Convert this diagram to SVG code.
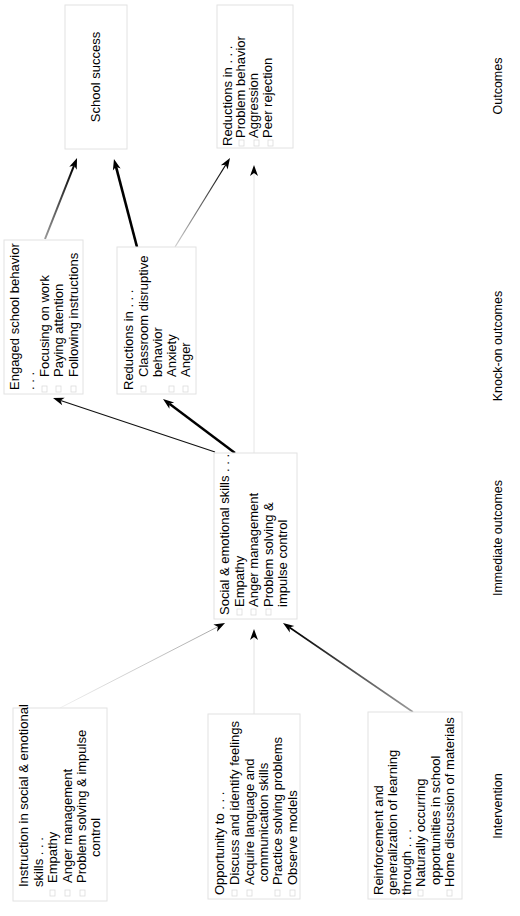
<svg xmlns="http://www.w3.org/2000/svg" width="520" height="916" viewBox="0 0 520 916">
<style>
.box{fill:#fff;stroke:#e2e2e2;stroke-width:1}
.t{font-family:"Liberation Sans",Arial,sans-serif;font-size:13px;fill:#000}
.lbl{font-family:"Liberation Sans",Arial,sans-serif;font-size:12.5px;fill:#000;text-anchor:middle}
.b{fill:none;stroke:#dcdcdc;stroke-width:0.8}
.c{fill:none}
</style>
<defs>
<marker id="ah" markerUnits="userSpaceOnUse" markerWidth="12" markerHeight="9" refX="3" refY="4" orient="auto" overflow="visible">
<path d="M0,0 L11,4 L0,8 L3,4 z" fill="#000"/>
</marker>
<linearGradient id="g1" gradientUnits="userSpaceOnUse" x1="208" y1="60" x2="289" y2="218"><stop offset="0" stop-color="#f0f0f0"/><stop offset="1" stop-color="#a8a8a8"/></linearGradient>
<linearGradient id="g3" gradientUnits="userSpaceOnUse" x1="204" y1="413" x2="288" y2="290"><stop offset="0" stop-color="#9a9a9a"/><stop offset="1" stop-color="#000"/></linearGradient>
<linearGradient id="g7" gradientUnits="userSpaceOnUse" x1="669" y1="175" x2="751" y2="226"><stop offset="0" stop-color="#d0d0d0"/><stop offset="1" stop-color="#000"/></linearGradient>
<linearGradient id="g8" gradientUnits="userSpaceOnUse" x1="677" y1="45" x2="751" y2="74"><stop offset="0" stop-color="#999"/><stop offset="1" stop-color="#000"/></linearGradient>
</defs>
<g transform="translate(0,916) rotate(-90)">
<g id="connectors" class="c" marker-end="url(#ah)">
<line x1="208" y1="60" x2="289.3" y2="217.9" stroke="url(#g1)" stroke-width="1"/>
<line x1="202" y1="254" x2="279" y2="254" stroke="#e2e2e2" stroke-width="1"/>
<line x1="204" y1="413" x2="288.5" y2="289.6" stroke="url(#g3)" stroke-width="1.6"/>
<line x1="464" y1="215" x2="515.5" y2="60.6" stroke="#111" stroke-width="1.2"/>
<line x1="463" y1="235" x2="512.2" y2="169.4" stroke="#000" stroke-width="2.4"/>
<line x1="463" y1="254" x2="743" y2="254" stroke="#e6e6e6" stroke-width="1"/>
<line x1="669" y1="175" x2="751.2" y2="225.8" stroke="url(#g7)" stroke-width="1.2"/>
<line x1="677" y1="45" x2="750.6" y2="74.1" stroke="url(#g8)" stroke-width="2"/>
<line x1="669" y1="137" x2="749.3" y2="116" stroke="#000" stroke-width="2.6"/>
</g>
<g id="intervention-instruction">
<rect class="box" x="15" y="13" width="193" height="94"/>
<text class="t" x="29" y="28">Instruction in social  &amp; emotional</text>
<text class="t" x="29" y="43">skills . . .</text>
<rect class="b" x="20" y="50" width="6" height="5"/><text class="t" x="33" y="57">Empathy</text>
<rect class="b" x="20" y="65" width="6" height="5"/><text class="t" x="33" y="72">Anger management</text>
<rect class="b" x="20" y="80" width="6" height="5"/><text class="t" x="33" y="86">Problem solving &amp; impulse</text>
<text class="t" x="59" y="100">control</text>
</g>
<g id="intervention-opportunity">
<rect class="box" x="17" y="208" width="185" height="92"/>
<text class="t" x="21" y="224">Opportunity to . . .</text>
<rect class="b" x="20" y="232" width="6" height="5"/><text class="t" x="31" y="239">Discuss and identify  feelings</text>
<rect class="b" x="20" y="247" width="6" height="5"/><text class="t" x="31" y="254">Acquire language and</text>
<text class="t" x="34" y="268">communication skills</text>
<rect class="b" x="20" y="275" width="6" height="5"/><text class="t" x="31" y="282">Practice solving problems</text>
<rect class="b" x="20" y="290" width="6" height="5"/><text class="t" x="31" y="297">Observe models</text>
</g>
<g id="intervention-reinforcement">
<rect class="box" x="17" y="368" width="187" height="94"/>
<text class="t" x="21" y="383">Reinforcement and</text>
<text class="t" x="21" y="397">generalization of learning</text>
<text class="t" x="21" y="411">through . . .</text>
<rect class="b" x="20" y="418" width="6" height="5"/><text class="t" x="29" y="425">Naturally occurring</text>
<text class="t" x="31" y="440">opportunities in school</text>
<rect class="b" x="20" y="447" width="6" height="5"/><text class="t" x="29" y="454">Home discussion of materials</text>
</g>
<g id="social-emotional-skills">
<rect class="box" x="297" y="214" width="166" height="83"/>
<text class="t" x="301" y="229">Social &amp; emotional skills . . .</text>
<rect class="b" x="301" y="237" width="6" height="5"/><text class="t" x="309" y="244">Empathy</text>
<rect class="b" x="301" y="251" width="6" height="5"/><text class="t" x="309" y="258">Anger management</text>
<rect class="b" x="301" y="266" width="6" height="5"/><text class="t" x="309" y="273">Problem solving &amp;</text>
<text class="t" x="309" y="287">impulse control</text>
</g>
<g id="engaged-school-behavior">
<rect class="box" x="522" y="4" width="154" height="79"/>
<text class="t" x="526" y="19">Engaged school behavior</text>
<text class="t" x="526" y="34">. . .</text>
<rect class="b" x="524" y="42" width="6" height="5"/><text class="t" x="539" y="49">Focusing on work</text>
<rect class="b" x="524" y="56" width="6" height="5"/><text class="t" x="539" y="63">Paying attention</text>
<rect class="b" x="524" y="71" width="6" height="5"/><text class="t" x="539" y="78">Following instructions</text>
</g>
<g id="reductions-knock-on">
<rect class="box" x="522" y="117" width="147" height="79"/>
<text class="t" x="526" y="133">Reductions in . . .</text>
<rect class="b" x="524" y="141" width="6" height="5"/><text class="t" x="539" y="148">Classroom disruptive</text>
<text class="t" x="539" y="162">behavior</text>
<rect class="b" x="524" y="169" width="6" height="5"/><text class="t" x="539" y="176">Anxiety</text>
<rect class="b" x="524" y="183" width="6" height="5"/><text class="t" x="539" y="190">Anger</text>
</g>
<g id="school-success">
<rect class="box" x="767" y="65" width="144" height="62"/>
<text class="t" x="839" y="100" text-anchor="middle">School success</text>
</g>
<g id="reductions-outcomes">
<rect class="box" x="768" y="217" width="143" height="76"/>
<text class="t" x="770" y="232">Reductions in . . .</text>
<rect class="b" x="770" y="239" width="6" height="5"/><text class="t" x="778" y="245">Problem behavior</text>
<rect class="b" x="770" y="254" width="6" height="5"/><text class="t" x="778" y="258">Aggression</text>
<rect class="b" x="770" y="268" width="6" height="5"/><text class="t" x="778" y="272">Peer rejection</text>
</g>
<g id="stage-labels">
<text class="lbl" x="110" y="502">Intervention</text>
<text class="lbl" x="378" y="502">Immediate outcomes</text>
<text class="lbl" x="570" y="502">Knock-on outcomes</text>
<text class="lbl" x="830" y="502">Outcomes</text>
</g>
</g>
</svg>
